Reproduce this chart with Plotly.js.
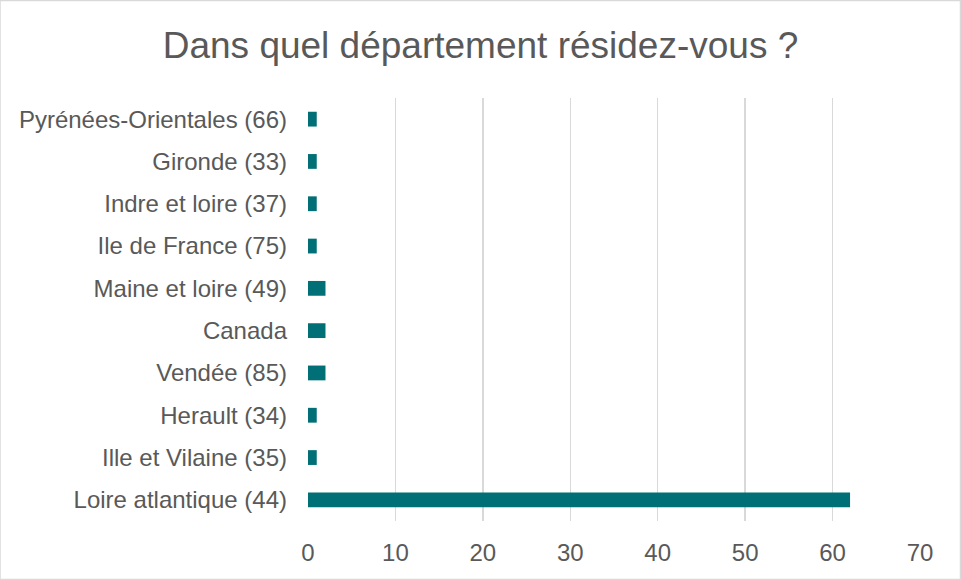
<!DOCTYPE html>
<html><head><meta charset="utf-8">
<script src="https://cdn.plot.ly/plotly-3.0.1.min.js"></script>
<style>html,body{margin:0;padding:0;background:#fff}#c{width:961px;height:580px}</style>
</head><body><div id="c"></div>
<script>
const categories = ["Loire atlantique (44)","Ille et Vilaine (35)","Herault (34)","Vendée (85)","Canada","Maine et loire (49)","Ile de France (75)","Indre et loire (37)","Gironde (33)","Pyrénées-Orientales (66)"];
const values = [62,1,1,2,2,2,1,1,1,1];
const xTicks = [0,10,20,30,40,50,60,70];

Plotly.newPlot('c',[{
  type:'bar', orientation:'h', y:categories, x:values,
  marker:{color:'#006F76'}, hoverinfo:'x+y'
}],{
  width:961, height:580,
  margin:{l:308,r:41,t:98,b:59},
  paper_bgcolor:'#fff', plot_bgcolor:'#fff',
  bargap:0.65,
  font:{family:'Liberation Sans, Arial, sans-serif', color:'#595959', size:24},
  title:{text:'Dans quel département résidez-vous ?', x:0.5, xanchor:'center', y:0.922, yanchor:'middle', font:{size:37,color:'#595959'}},
  xaxis:{range:[0,70], tickvals:xTicks, showgrid:true, gridcolor:'#D9D9D9', gridwidth:1.5, zeroline:false, showline:false, ticks:'', ticklabelstandoff:15, fixedrange:true},
  yaxis:{type:'category', categoryorder:'array', categoryarray:categories, showgrid:false, zeroline:false, showline:false, ticks:'', ticklabelstandoff:20, fixedrange:true},
  shapes:[{type:'rect', xref:'paper', yref:'paper', x0:-308/612, x1:1+40.5/612, y0:-58.5/423, y1:1+97.5/423, line:{color:'#D9D9D9', width:1.5}}],
  showlegend:false
},{displayModeBar:false, staticPlot:true});
</script></body></html>
